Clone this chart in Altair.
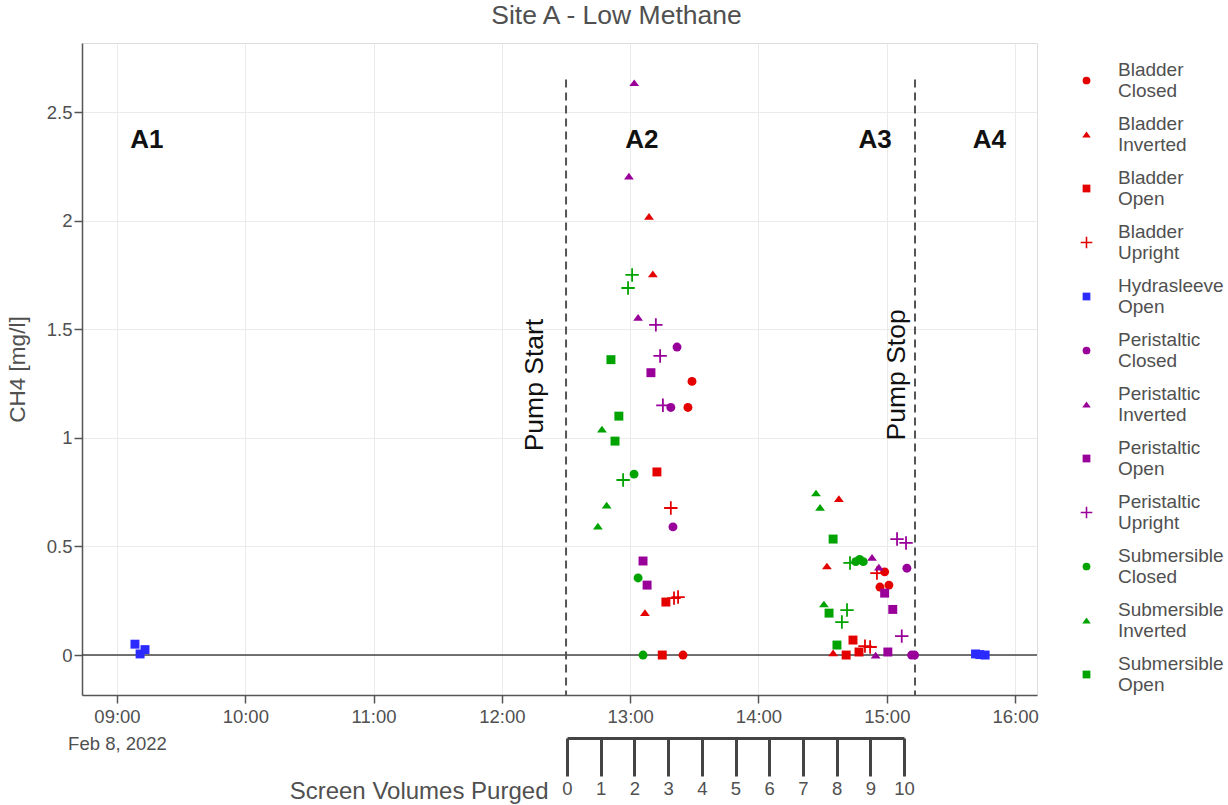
import altair as alt
import pandas as pd

FONT = "Liberation Sans"
DAY = "2022-02-08"
W, H = 955, 652

# Sample series: (time of day, CH4 in mg/l)
bladder_closed = [("13:28:54", 1.26), ("13:27:00", 1.14), ("13:24:42", 0.0),
                  ("14:59:00", 0.383), ("14:56:48", 0.313), ("15:01:00", 0.322)]
bladder_inverted = [("13:08:48", 2.02), ("13:10:36", 1.755), ("13:06:54", 0.195),
                    ("14:37:36", 0.72), ("14:32:00", 0.41), ("14:34:54", 0.01)]
bladder_open = [("13:12:30", 0.843), ("13:16:42", 0.244), ("13:15:00", 0.0),
                ("14:44:12", 0.069), ("14:41:00", 0.0), ("14:47:00", 0.014)]
bladder_upright = [("13:19:00", 0.677), ("13:20:30", 0.262), ("13:22:24", 0.267),
                   ("14:55:24", 0.377), ("14:49:48", 0.041), ("14:52:12", 0.037)]
hydrasleeve_open = [("09:08:24", 0.05), ("09:10:48", 0.005), ("09:13:06", 0.025),
                    ("15:41:30", 0.005), ("15:43:30", 0.002), ("15:46:00", 0.0)]
peristaltic_closed = [("13:21:54", 1.418), ("13:19:00", 1.14), ("13:20:00", 0.59),
                      ("15:09:24", 0.40), ("15:11:36", 0.0), ("15:13:00", 0.0)]
peristaltic_inverted = [("13:01:54", 2.635), ("12:59:24", 2.205), ("13:03:42", 1.555),
                        ("14:53:06", 0.45), ("14:56:18", 0.405), ("14:54:48", 0.0)]
peristaltic_open = [("13:09:42", 1.30), ("13:06:00", 0.433), ("13:07:54", 0.322),
                    ("14:59:00", 0.285), ("15:02:48", 0.21), ("15:00:30", 0.014)]
peristaltic_upright = [("13:12:00", 1.52), ("13:14:00", 1.377), ("13:15:18", 1.15),
                       ("15:04:48", 0.534), ("15:09:00", 0.516), ("15:07:00", 0.087)]
submersible_closed = [("13:01:48", 0.833), ("13:03:42", 0.355), ("13:06:00", 0.0),
                      ("14:45:30", 0.43), ("14:47:18", 0.44), ("14:49:00", 0.43)]
submersible_inverted = [("12:46:48", 1.04), ("12:49:00", 0.69), ("12:44:54", 0.594),
                        ("14:26:54", 0.746), ("14:28:48", 0.68), ("14:30:36", 0.235)]
submersible_open = [("12:51:00", 1.36), ("12:54:42", 1.10), ("12:52:54", 0.985),
                    ("14:34:54", 0.534), ("14:33:00", 0.193), ("14:36:42", 0.046)]
submersible_upright = [("13:00:54", 1.75), ("12:59:00", 1.69), ("12:56:42", 0.806),
                       ("14:42:48", 0.424), ("14:41:24", 0.207), ("14:39:00", 0.152)]

RED, BLUE, PURPLE, GREEN = "#e50000", "#2b2bff", "#990099", "#00a300"
TRIANGLE = "M-1.1,0.75L0,-0.75L1.1,0.75Z"
PLUS = "M-1.5,-0.2H-0.2V-1.5H0.2V-0.2H1.5V0.2H0.2V1.5H-0.2V0.2H-1.5Z"

series = [
    ("Bladder Closed", RED, "circle", bladder_closed),
    ("Bladder Inverted", RED, TRIANGLE, bladder_inverted),
    ("Bladder Open", RED, "square", bladder_open),
    ("Bladder Upright", RED, PLUS, bladder_upright),
    ("Hydrasleeve Open", BLUE, "square", hydrasleeve_open),
    ("Peristaltic Closed", PURPLE, "circle", peristaltic_closed),
    ("Peristaltic Inverted", PURPLE, TRIANGLE, peristaltic_inverted),
    ("Peristaltic Open", PURPLE, "square", peristaltic_open),
    ("Peristaltic Upright", PURPLE, PLUS, peristaltic_upright),
    ("Submersible Closed", GREEN, "circle", submersible_closed),
    ("Submersible Inverted", GREEN, TRIANGLE, submersible_inverted),
    ("Submersible Open", GREEN, "square", submersible_open),
    ("Submersible Upright", GREEN, PLUS, submersible_upright),
]
NAMES = [s[0] for s in series]
LEGEND_NAMES = NAMES[:12]

rows = []
for name, _, _, pts in series:
    for t, v in pts:
        rows.append({"series": name, "time": f"{DAY}T{t}", "ch4": v})
df = pd.DataFrame(rows)

# Pump events and annotations
PUMP_TIMES = ["12:30:00", "15:13:12"]
PUMP_LABELS = ["Pump Start", "Pump Stop"]
PUMP_LABEL_TIMES = ["12:15:30", "15:04:48"]
PUMP_LABEL_Y = [1.243, 1.29]
DASH_TOP = 2.65
ZONES = ["A1", "A2", "A3", "A4"]
ZONE_TIMES = ["09:14:00", "13:05:30", "14:54:30", "15:48:00"]
ZONE_Y = 2.37
VOLUMES = list(range(11))

pump_df = pd.DataFrame({"time": [f"{DAY}T{t}" for t in PUMP_TIMES], "top": DASH_TOP})
pump_txt = pd.DataFrame({"time": [f"{DAY}T{t}" for t in PUMP_LABEL_TIMES],
                         "y": PUMP_LABEL_Y, "label": PUMP_LABELS})
zone_df = pd.DataFrame({"time": [f"{DAY}T{t}" for t in ZONE_TIMES], "y": ZONE_Y, "label": ZONES})
vol_df = pd.DataFrame({"vol": VOLUMES})

x_scale = alt.Scale(domain=[alt.DateTime(year=2022, month=2, date=8, hours=8, minutes=43, seconds=38),
                            alt.DateTime(year=2022, month=2, date=8, hours=16, minutes=10, seconds=15)],
                    nice=False)
y_scale = alt.Scale(domain=[-0.184, 2.818], nice=False, zero=False)

x_axis = alt.Axis(
    values=[alt.DateTime(year=2022, month=2, date=8, hours=h) for h in range(9, 17)],
    labelExpr="hours(datum.value) == 9 ? ['09:00', 'Feb 8, 2022'] : timeFormat(datum.value, '%H:%M')",
    title=None, grid=True, gridColor="#ebebeb", gridWidth=1,
    domainColor="#555", domainWidth=1.5, tickColor="#555", tickSize=8, tickWidth=1.5,
    labelFont=FONT, labelFontSize=18.5, labelColor="#505050", labelPadding=4,
    labelLineHeight=27, labelFlush=False, labelOverlap=False,
)
y_axis = alt.Axis(
    values=[0, 0.5, 1, 1.5, 2, 2.5], format=".1~f",
    title="CH4 [mg/l]", titleFont=FONT, titleFontSize=22.5, titleFontWeight="normal",
    titleColor="#505050", titleX=-65, titleY=H / 2, titleAngle=270, titleAlign="center",
    titleBaseline="middle",
    grid=True, gridColor="#ebebeb", gridWidth=1,
    domainColor="#555", domainWidth=1.5, tickColor="#555", tickSize=8, tickWidth=1.5,
    labelFont=FONT, labelFontSize=18.5, labelColor="#505050", labelPadding=2,
)

X = alt.X("time:T", scale=x_scale, axis=x_axis)

zero = alt.Chart(pd.DataFrame({"v": [0]})).mark_rule(color="#444", strokeWidth=1.5).encode(
    y=alt.Y("v:Q", scale=y_scale, axis=y_axis))

pts = alt.Chart(df).mark_point(filled=True, opacity=1, size=80).encode(
    x=X,
    y=alt.Y("ch4:Q", scale=y_scale, axis=y_axis),
    color=alt.Color("series:N", scale=alt.Scale(domain=NAMES, range=[s[1] for s in series]),
                    legend=alt.Legend(values=LEGEND_NAMES, title=None, orient="none",
                                      legendX=995, legendY=28, labelExpr="split(datum.label, ' ')",
                                      labelFont=FONT, labelFontSize=19, labelColor="#505050",
                                      labelBaseline="line-bottom",
                                      labelLimit=200, symbolSize=60,
                                      rowPadding=13, labelOffset=22, padding=0)),
    shape=alt.Shape("series:N", scale=alt.Scale(domain=NAMES, range=[s[2] for s in series])),
)

dashes = alt.Chart(pump_df).mark_rule(color="#555", strokeWidth=2, strokeDash=[8, 5]).encode(
    x=X, y=alt.Y("top:Q", scale=y_scale, axis=y_axis), y2=alt.value(H))

pump_text = alt.Chart(pump_txt).mark_text(font=FONT, fontSize=26.5, angle=270, color="#111",
                                          align="center", baseline="middle").encode(
    x=X, y=alt.Y("y:Q", scale=y_scale, axis=y_axis), text="label:N")

zone_text = alt.Chart(zone_df).mark_text(font=FONT, fontSize=26, fontWeight="bold", color="#111",
                                         align="center", baseline="middle").encode(
    x=X, y=alt.Y("y:Q", scale=y_scale, axis=y_axis), text="label:N")

main = alt.layer(zero, dashes, pts, pump_text, zone_text)

vol_axis = alt.Axis(
    orient="bottom", offset=43, values=VOLUMES, format="d", grid=False,
    domainColor="#444", domainWidth=3, tickColor="#444", tickWidth=3, tickSize=38,
    labelFont=FONT, labelFontSize=18.5, labelColor="#505050", labelPadding=3,
    labelFlush=False, labelOverlap=False,
    title="Screen Volumes Purged", titleFont=FONT, titleFontSize=24, titleFontWeight="normal",
    titleColor="#505050", titleAlign="right", titleBaseline="middle", titleAngle=0,
    titleX=466, titleY=53,
)
vols = alt.Chart(vol_df).mark_tick(opacity=0).encode(
    x=alt.X("vol:Q", scale=alt.Scale(domain=[0, 10], range=[485, 822], nice=False, zero=False),
            axis=vol_axis),
    y=alt.value(0),
)

chart = alt.layer(main, vols).resolve_scale(x="independent").properties(
    width=W, height=H,
    title=alt.TitleParams("Site A - Low Methane", font=FONT, fontSize=26.5, fontWeight="normal",
                          color="#505050", anchor="middle", dx=57, offset=11),
    autosize=alt.AutoSizeParams(type="none"),
    padding={"left": 82, "top": 43, "right": 191, "bottom": 110},
).configure_view(stroke=None).configure(background="white")

chart.save("out.html", embed_options={"renderer": "svg", "actions": False})
